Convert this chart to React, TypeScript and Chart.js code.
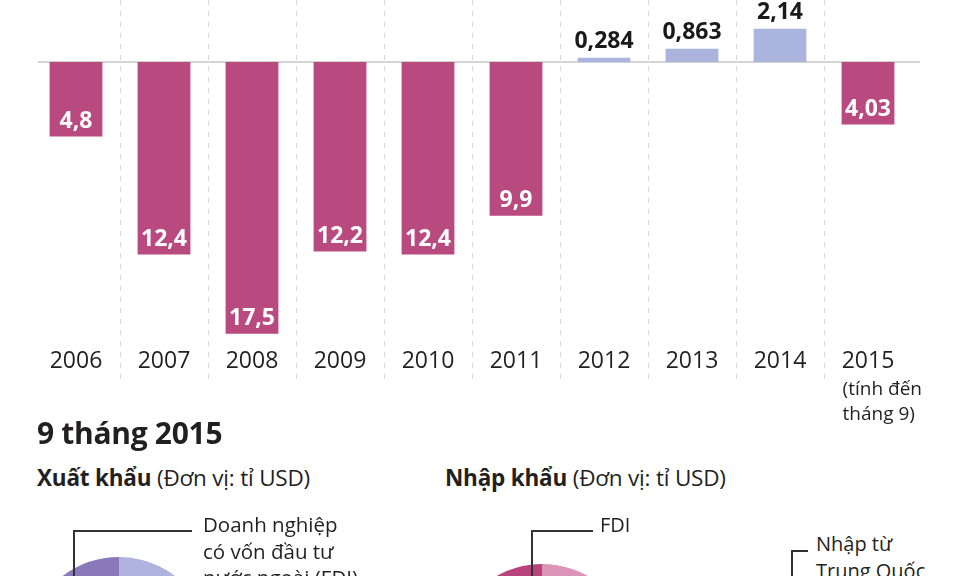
import React, { useEffect, useRef } from "react";
import { Chart, registerables } from "chart.js";

Chart.register(...registerables);

// ---- Data ----
const years = ["2006", "2007", "2008", "2009", "2010", "2011", "2012", "2013", "2014", "2015"];
const tradeBalance = [-4.8, -12.4, -17.5, -12.2, -12.4, -9.9, 0.284, 0.863, 2.14, -4.03];
const note2015 = ["(tính đến", "tháng 9)"];

const exportLabels = ["Doanh nghiệp trong nước", "Doanh nghiệp có vốn đầu tư nước ngoài (FDI)"];
const exportValues = [35.0, 84.5];
const importLabels = ["Doanh nghiệp trong nước", "FDI"];
const importValues = [50.7, 72.8];

const FONT = "'Open Sans', 'Noto Sans', sans-serif";
const DEFICIT = "#b94a7f";
const SURPLUS = "#abb4dd";

const fmt = (v: number) => String(Math.abs(v)).replace(".", ",");

function BarChart() {
  const ref = useRef<HTMLCanvasElement>(null);
  useEffect(() => {
    const overlay = {
      id: "overlay",
      beforeDatasetsDraw(chart: any) {
        const { ctx, chartArea, scales } = chart;
        const x = scales.x;
        const y = scales.y;
        ctx.save();
        ctx.strokeStyle = "#d9d9d9";
        ctx.lineWidth = 1.2;
        ctx.setLineDash([5, 6]);
        for (let i = 0; i < years.length - 1; i++) {
          const px = Math.round((x.getPixelForValue(i) + x.getPixelForValue(i + 1)) / 2) + 0.5;
          ctx.beginPath();
          ctx.moveTo(px, chartArea.top);
          ctx.lineTo(px, chartArea.bottom + 42);
          ctx.stroke();
        }
        ctx.setLineDash([]);
        ctx.strokeStyle = "#c6c6c6";
        ctx.lineWidth = 1.5;
        const y0 = y.getPixelForValue(0);
        ctx.beginPath();
        ctx.moveTo(chartArea.left + 6, y0);
        ctx.lineTo(chartArea.right + 8, y0);
        ctx.stroke();
        ctx.restore();
      },
      afterDatasetsDraw(chart: any) {
        const { ctx, chartArea } = chart;
        const meta = chart.getDatasetMeta(0);
        ctx.save();
        ctx.textAlign = "center";
        ctx.textBaseline = "middle";
        ctx.font = `bold 23px ${FONT}`;
        meta.data.forEach((bar: any, i: number) => {
          const v = tradeBalance[i];
          if (v < 0) {
            ctx.fillStyle = "#ffffff";
            ctx.fillText(fmt(v), bar.x, bar.y - 15);
          } else {
            ctx.fillStyle = "#1a1a1a";
            ctx.fillText(fmt(v), bar.x, bar.y - 16);
          }
        });
        // footnote under the last year
        const last = meta.data[years.length - 1];
        ctx.textAlign = "left";
        ctx.fillStyle = "#231f20";
        ctx.font = `19px ${FONT}`;
        note2015.forEach((t, k) => {
          ctx.fillText(t, last.x - last.width / 2 + 1, chartArea.bottom + 48 + k * 25);
        });
        ctx.restore();
      },
    };

    const chart = new Chart(ref.current!, {
      type: "bar",
      data: {
        labels: years,
        datasets: [
          {
            data: tradeBalance,
            backgroundColor: tradeBalance.map((v) => (v < 0 ? DEFICIT : SURPLUS)),
            borderWidth: 0,
            barPercentage: 0.6,
            categoryPercentage: 1,
          },
        ],
      },
      options: {
        animation: false,
        responsive: true,
        maintainAspectRatio: false,
        layout: { padding: { left: 32, right: 48, top: 0, bottom: 59 } },
        plugins: { legend: { display: false }, tooltip: { enabled: false } },
        scales: {
          x: {
            grid: { display: false, drawTicks: false },
            border: { display: false },
            ticks: {
              color: "#231f20",
              font: { family: FONT, size: 23 },
              padding: 6,
              maxRotation: 0,
              autoSkip: false,
            },
          },
          y: { display: false, min: -18, max: 4 },
        },
      },
      plugins: [overlay],
    });
    return () => chart.destroy();
  }, []);
  return <canvas ref={ref} />;
}

function PieChart({ values, labels, colors }: { values: number[]; labels: string[]; colors: string[] }) {
  const ref = useRef<HTMLCanvasElement>(null);
  useEffect(() => {
    const chart = new Chart(ref.current!, {
      type: "pie",
      data: {
        labels,
        datasets: [{ data: values, backgroundColor: colors, borderWidth: 0 }],
      },
      options: {
        animation: false,
        responsive: true,
        maintainAspectRatio: false,
        layout: { padding: 7 },
        plugins: { legend: { display: false }, tooltip: { enabled: false } },
      },
    });
    return () => chart.destroy();
  }, []);
  return <canvas ref={ref} />;
}

const txt: React.CSSProperties = {
  position: "absolute",
  fontFamily: FONT,
  color: "#231f20",
  whiteSpace: "nowrap",
};

const line = (left: number, top: number, width: number, height: number): React.CSSProperties => ({
  position: "absolute",
  left,
  top,
  width,
  height,
  background: "#333",
});

export default function App() {
  useEffect(() => {
    document.body.style.margin = "0";
  }, []);
  return (
    <div
      style={{
        position: "fixed",
        left: 0,
        top: 0,
        width: 960,
        height: 576,
        overflow: "hidden",
        background: "#fff",
      }}
    >
      <div style={{ position: "absolute", left: 0, top: 0, width: 960, height: 440 }}>
        <BarChart />
      </div>

      <div style={{ ...txt, left: 37, top: 414, fontSize: 30, fontWeight: 700, lineHeight: "38px", letterSpacing: -0.3 }}>
        9 tháng 2015
      </div>
      <div style={{ ...txt, left: 37, top: 463, fontSize: 22.5, lineHeight: "30px", letterSpacing: -0.2 }}>
        <b>Xuất khẩu</b> (Đơn vị: tỉ USD)
      </div>
      <div style={{ ...txt, left: 445, top: 463, fontSize: 22.5, lineHeight: "30px", letterSpacing: -0.2 }}>
        <b>Nhập khẩu</b> (Đơn vị: tỉ USD)
      </div>

      <div style={{ position: "absolute", left: 19, top: 550, width: 200, height: 200 }}>
        <PieChart values={exportValues} labels={exportLabels} colors={["#b1b3df", "#8a79b8"]} />
      </div>
      <div style={{ position: "absolute", left: 442, top: 557, width: 200, height: 200 }}>
        <PieChart values={importValues} labels={importLabels} colors={["#dc93b8", "#b9447c"]} />
      </div>

      <div style={line(73, 530, 119, 2)} />
      <div style={line(73, 530, 2, 60)} />
      <div style={{ ...txt, left: 203, top: 511, fontSize: 20.5, lineHeight: "26.5px" }}>
        Doanh nghiệp
        <br />
        có vốn đầu tư
        <br />
        nước ngoài (FDI)
      </div>

      <div style={line(531, 530, 62, 2)} />
      <div style={line(531, 530, 2, 60)} />
      <div style={{ ...txt, left: 600, top: 512, fontSize: 20, lineHeight: "26px" }}>FDI</div>

      <div style={line(791, 550, 17, 2)} />
      <div style={line(791, 550, 2, 40)} />
      <div style={{ ...txt, left: 816, top: 530, fontSize: 20, lineHeight: "27px" }}>
        Nhập từ
        <br />
        Trung Quốc
      </div>
    </div>
  );
}
